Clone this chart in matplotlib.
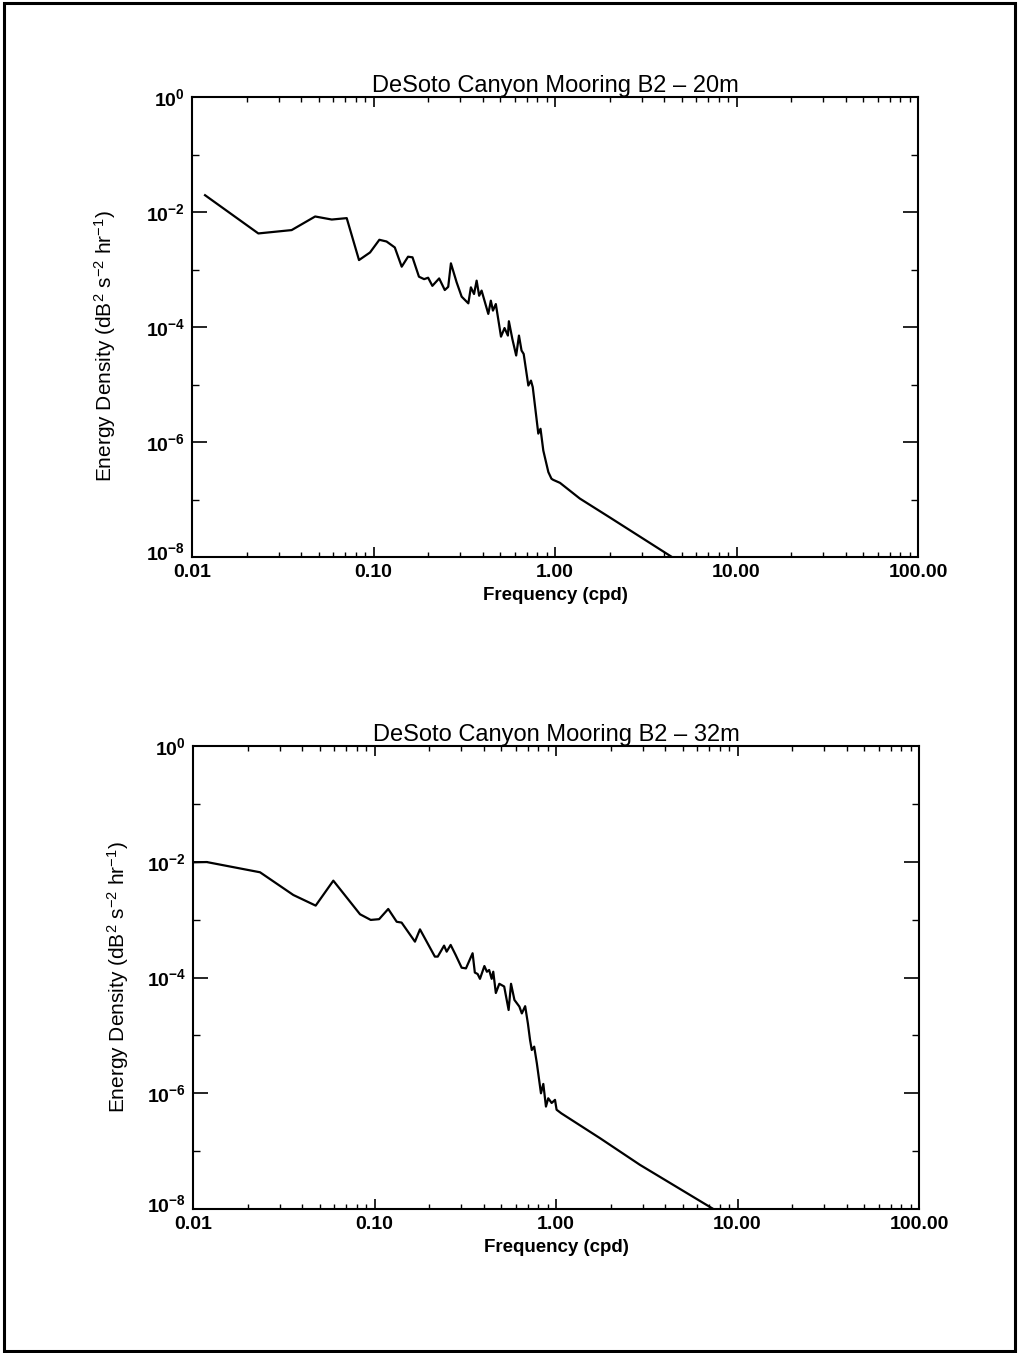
import matplotlib
matplotlib.use("Agg")
import matplotlib.pyplot as plt
import matplotlib.transforms as mtransforms
from matplotlib.ticker import FixedLocator, FixedFormatter, LogLocator, NullFormatter
from matplotlib.patches import Rectangle

plt.rcParams['font.family'] = ['Liberation Sans', 'DejaVu Sans']
plt.rcParams['mathtext.fontset'] = 'custom'
plt.rcParams['mathtext.rm'] = 'Liberation Sans'
plt.rcParams['mathtext.it'] = 'Liberation Sans:italic'
plt.rcParams['mathtext.bf'] = 'Liberation Sans:bold'

# Spectrum at 20 m depth: frequency (cpd) and energy density
freq_20m = [0.0118, 0.0232, 0.0354, 0.0477, 0.0589, 0.0712, 0.0832, 0.0957, 0.1077, 0.118,
            0.131, 0.143, 0.155, 0.164, 0.178, 0.190, 0.200, 0.211, 0.230, 0.247,
            0.258, 0.267, 0.287, 0.306, 0.333, 0.344, 0.358, 0.370, 0.382, 0.394,
            0.429, 0.443, 0.455, 0.472, 0.504, 0.527, 0.550, 0.557, 0.582, 0.611,
            0.633, 0.654, 0.672, 0.713, 0.737, 0.754, 0.809, 0.832, 0.862, 0.919,
            0.956, 0.977, 1.065, 1.37, 2.0, 4.41, 5.0]
energy_20m = [0.0196, 0.00424, 0.00485, 0.00836, 0.0074, 0.00783, 0.00146, 0.00198, 0.00329, 0.00307,
              0.00242, 0.00112, 0.00167, 0.00163, 0.00075, 0.00068, 0.00072, 0.00052, 0.00070, 0.00044,
              0.00050, 0.00128, 0.00060, 0.000337, 0.000258, 0.00049, 0.000375, 0.00064, 0.00035, 0.00043,
              0.000169, 0.000287, 0.000193, 0.000251, 6.8e-5, 9.6e-5, 7.1e-5, 1.26e-4, 6.2e-5, 3.2e-5,
              7.1e-5, 3.9e-5, 3.4e-5, 9.6e-6, 1.17e-5, 9e-6, 1.4e-6, 1.7e-6, 7.1e-7, 3e-7,
              2.3e-7, 2.2e-7, 1.95e-7, 1.04e-7, 4.9e-8, 1e-8, 7.8e-9]

# Spectrum at 32 m depth
freq_32m = [0.0102, 0.0119, 0.0234, 0.0357, 0.0474, 0.0593, 0.0832, 0.0953, 0.106, 0.119,
            0.1325, 0.141, 0.167, 0.178, 0.215, 0.223, 0.2417, 0.2497, 0.2627, 0.28,
            0.302, 0.319, 0.347, 0.357, 0.37, 0.381, 0.403, 0.416, 0.428, 0.442,
            0.451, 0.466, 0.487, 0.518, 0.548, 0.565, 0.59, 0.628, 0.648, 0.676,
            0.70, 0.719, 0.735, 0.758, 0.784, 0.826, 0.851, 0.88, 0.906, 0.946,
            0.987, 1.007, 1.07, 1.745, 2.9, 7.36, 8.0]
energy_32m = [0.0098, 0.0099, 0.00659, 0.00267, 0.00175, 0.00472, 0.00124, 0.00099, 0.00102, 0.00153,
              0.00092, 0.00089, 0.000417, 0.00068, 0.00023, 0.00023, 0.000356, 0.00028, 0.000366, 0.000245,
              0.000148, 0.000144, 0.000263, 0.000122, 0.000115, 9.5e-5, 0.000158, 0.000126, 0.000135, 9.5e-5,
              0.000126, 5.4e-5, 7.8e-5, 7e-5, 2.75e-5, 7.8e-5, 4.1e-5, 3.15e-5, 2.4e-5, 3.2e-5,
              1.6e-5, 8.4e-6, 5.6e-6, 6.4e-6, 3.3e-6, 1e-6, 1.45e-6, 5.9e-7, 8.2e-7, 6.8e-7,
              7.7e-7, 5.2e-7, 4.5e-7, 1.68e-7, 5.8e-8, 1e-8, 8.3e-9]

titles = ["DeSoto Canyon Mooring B2 \u2013 20m", "DeSoto Canyon Mooring B2 \u2013 32m"]
x_ticks = [0.01, 0.1, 1.0, 10.0, 100.0]
x_tick_labels = ["0.01", "0.10", "1.00", "10.00", "100.00"]
y_major = [1e0, 1e-2, 1e-4, 1e-6, 1e-8]
y_major_labels = [r"$\mathbf{10^{0}}$", r"$\mathbf{10^{-2}}$", r"$\mathbf{10^{-4}}$",
                  r"$\mathbf{10^{-6}}$", r"$\mathbf{10^{-8}}$"]
y_minor = [1e-1, 1e-3, 1e-5, 1e-7]

fig = plt.figure(figsize=(10.18, 13.53), dpi=100)
axes_rects = [[0.1886, 0.5883, 0.7132, 0.3400],
              [0.1896, 0.1064, 0.7132, 0.3422]]
ylabel_pos = [(-0.102, 0.459), (-0.086, 0.5)]

for rect, f, e, title, (lx, ly) in zip(axes_rects, [freq_20m, freq_32m],
                                       [energy_20m, energy_32m], titles, ylabel_pos):
    ax = fig.add_axes(rect)
    ax.plot(f, e, color='black', lw=1.6)
    ax.set_xscale('log')
    ax.set_yscale('log')
    ax.set_xlim(0.01, 100)
    ax.set_ylim(1e-8, 1)

    ax.xaxis.set_major_locator(FixedLocator(x_ticks))
    ax.xaxis.set_major_formatter(FixedFormatter(x_tick_labels))
    ax.xaxis.set_minor_locator(LogLocator(base=10, subs=range(2, 10), numticks=20))
    ax.xaxis.set_minor_formatter(NullFormatter())
    ax.yaxis.set_major_locator(FixedLocator(y_major))
    ax.yaxis.set_major_formatter(FixedFormatter(y_major_labels))
    ax.yaxis.set_minor_locator(FixedLocator(y_minor))
    ax.yaxis.set_minor_formatter(NullFormatter())

    ax.tick_params(axis='x', which='major', direction='in', top=True, bottom=True,
                   length=7, width=1.2, labelsize=14, pad=5)
    ax.tick_params(axis='x', which='minor', direction='in', top=True, bottom=True,
                   length=3.5, width=1.0)
    ax.tick_params(axis='y', which='major', direction='in', left=True, right=True,
                   length=11, width=1.2, labelsize=14, pad=5)
    ax.tick_params(axis='y', which='minor', direction='in', left=True, right=True,
                   length=5, width=1.0)
    for lab in ax.get_xticklabels():
        lab.set_fontweight('bold')

    # lift the bottom y label clear of the first frequency label
    fig.canvas.draw()
    bottom_lab = ax.yaxis.get_major_ticks()[-1].label1
    bottom_lab.set_transform(bottom_lab.get_transform() +
                             mtransforms.ScaledTranslation(0, 6 / 100, fig.dpi_scale_trans))

    for sp in ax.spines.values():
        sp.set_linewidth(1.5)

    ax.set_title(title, fontsize=17, pad=2)
    ax.set_xlabel("Frequency (cpd)", fontsize=13.5, fontweight='bold', labelpad=4)
    ax.set_ylabel(r"Energy Density (dB$^{2}$ s$^{-2}$ hr$^{-1}$)", fontsize=15)
    ax.yaxis.set_label_coords(lx, ly)

# page frame
fig.add_artist(Rectangle((4 / 1018, 1 - 1351 / 1353), 1011 / 1018, 1348 / 1353,
                         transform=fig.transFigure, fill=False, lw=2.2, color='black'))

fig.savefig("out.png", dpi=100, facecolor='white')
